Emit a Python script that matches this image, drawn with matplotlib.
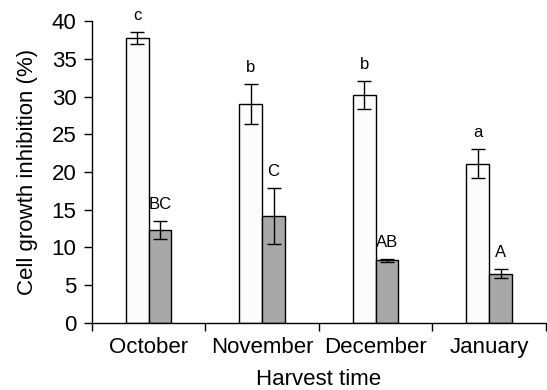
import matplotlib
matplotlib.use("Agg")
import matplotlib.pyplot as plt
import numpy as np

plt.rcParams['font.family'] = ['Liberation Sans', 'DejaVu Sans']

categories = ["October", "November", "December", "January"]
white_vals = [37.8, 29.0, 30.2, 21.1]
white_err = [0.8, 2.7, 1.8, 1.9]
white_letters = ["c", "b", "b", "a"]
gray_vals = [12.3, 14.2, 8.3, 6.5]
gray_err = [1.2, 3.7, 0.2, 0.6]
gray_letters = ["BC", "C", "AB", "A"]

fig = plt.figure(figsize=(5.47, 3.9), dpi=100)
ax = fig.add_axes([0.168, 0.172, 0.830, 0.774])

x = np.arange(len(categories))
w = 0.2
ekw = dict(elinewidth=1.0, capthick=1.0, capsize=5, ecolor='black')
ax.bar(x - w / 2, white_vals, w, yerr=white_err, color='#fcfcfc',
       edgecolor='black', linewidth=1.0, error_kw=ekw, zorder=2)
ax.bar(x + w / 2, gray_vals, w, yerr=gray_err, color='#a8a8a8',
       edgecolor='black', linewidth=1.0, error_kw=ekw, zorder=2)

for i in range(len(categories)):
    ax.annotate(white_letters[i], (x[i] - w / 2, white_vals[i] + white_err[i]),
                xytext=(0, 8.6), textcoords='offset points', ha='center',
                va='baseline', fontsize=12)
    ax.annotate(gray_letters[i], (x[i] + w / 2, gray_vals[i] + gray_err[i]),
                xytext=(0, 8.6), textcoords='offset points', ha='center',
                va='baseline', fontsize=12)

ax.set_xlim(-0.5, len(categories) - 0.5)
ax.set_ylim(0, 40)
ax.set_yticks(range(0, 41, 5))
ax.set_xticks(np.arange(-0.5, len(categories), 1.0))
ax.set_xticklabels([])
ax.set_xticks(x, minor=True)
ax.set_xticklabels(categories, minor=True)
ax.tick_params(axis='x', which='minor', length=0, labelsize=16, pad=10)
ax.tick_params(axis='x', which='major', length=6, width=1.0, direction='out')
ax.tick_params(axis='y', length=6, width=1.0, labelsize=16, pad=5)

for s in ['top', 'right']:
    ax.spines[s].set_visible(False)
for s in ['left', 'bottom']:
    ax.spines[s].set_linewidth(1.0)

ax.set_ylabel("Cell growth inhibition (%)", fontsize=16, labelpad=10)
ax.set_xlabel("Harvest time", fontsize=16, labelpad=8)

fig.savefig("out.png", dpi=100)
